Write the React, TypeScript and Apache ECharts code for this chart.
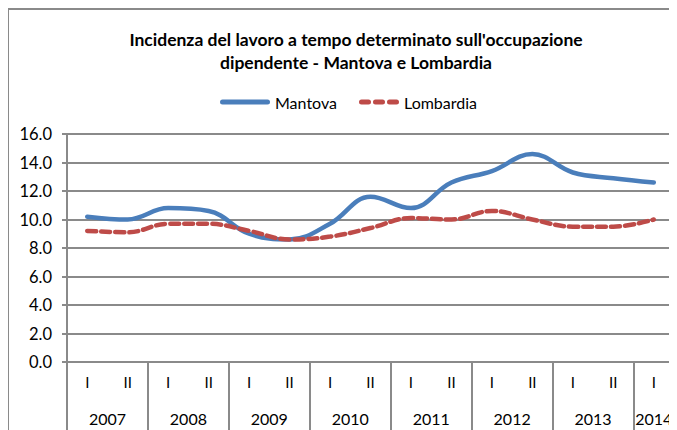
import React, { useEffect, useRef } from "react";
import * as echarts from "echarts";

const years = ["2007", "2008", "2009", "2010", "2011", "2012", "2013", "2014"];
const semestersPerYear = [2, 2, 2, 2, 2, 2, 2, 1];
const semesterNames = ["I", "II"];
const mantova = [10.2, 10.0, 10.8, 10.6, 9.0, 8.6, 9.7, 11.6, 10.8, 12.6, 13.4, 14.6, 13.3, 12.9, 12.6];
const lombardia = [9.2, 9.1, 9.7, 9.7, 9.2, 8.6, 8.8, 9.4, 10.1, 10.0, 10.6, 10.0, 9.5, 9.5, 10.0];
const yTicks = { min: 0, max: 16, interval: 2 };
const titleText = "Incidenza del lavoro a tempo determinato sull'occupazione\ndipendente - Mantova e Lombardia";

const FONT = "Lato, 'Liberation Sans', Arial, sans-serif";
const BLUE = "#4a7ebb";
const RED = "#be4b48";

const solidIcon = "path://M2.5,0 L47.5,0 A2.5,2.5 0 0 1 47.5,5 L2.5,5 A2.5,2.5 0 0 1 2.5,0 Z";
const dashIcon =
  "path://M2.5,0 L9.5,0 A2.5,2.5 0 0 1 9.5,5 L2.5,5 A2.5,2.5 0 0 1 2.5,0 Z " +
  "M16.5,0 L23.5,0 A2.5,2.5 0 0 1 23.5,5 L16.5,5 A2.5,2.5 0 0 1 16.5,0 Z " +
  "M30.5,0 L37.5,0 A2.5,2.5 0 0 1 37.5,5 L30.5,5 A2.5,2.5 0 0 1 30.5,0 Z";

export default function App() {
  const ref = useRef<HTMLDivElement>(null);
  useEffect(() => {
    if (!ref.current) return;
    const chart = echarts.init(ref.current, undefined, { renderer: "svg" });

    const semLabels: string[] = [];
    semestersPerYear.forEach((n) => {
      for (let i = 0; i < n; i++) semLabels.push(semesterNames[i]);
    });
    const halfCount = semLabels.length * 2;
    const halfLabels: string[] = new Array(halfCount + 1).fill("");
    const boundaries = new Set<number>();
    let pos = 0;
    boundaries.add(0);
    years.forEach((y, i) => {
      const w = semestersPerYear[i] * 2;
      halfLabels[pos + w / 2] = y;
      pos += w;
      boundaries.add(pos);
    });

    const gray = "#8a8a8a";
    const legendText = { fontFamily: FONT, fontSize: 16, color: "#000" };
    chart.setOption({
      animation: false,
      textStyle: { fontFamily: FONT },
      graphic: [
        { type: "line", shape: { x1: 0, y1: 1, x2: 700, y2: 1 }, style: { stroke: gray, lineWidth: 2 } },
        { type: "line", shape: { x1: 0, y1: 0, x2: 0, y2: 500 }, style: { stroke: gray, lineWidth: 2 } },
      ],
      title: {
        text: titleText,
        left: 343,
        textAlign: "center",
        top: 15,
        textStyle: { fontFamily: FONT, fontSize: 17.5, fontWeight: "bold", color: "#000", lineHeight: 23 },
      },
      legend: [
        {
          top: 81,
          left: 207,
          itemWidth: 50,
          itemHeight: 5,
          icon: solidIcon,
          textStyle: legendText,
          data: ["Mantova"],
        },
        {
          top: 81,
          left: 346,
          itemWidth: 40,
          itemHeight: 5,
          icon: dashIcon,
          textStyle: legendText,
          data: ["Lombardia"],
        },
      ],
      grid: { left: 59, top: 126, width: 607, height: 228, containLabel: false },
      xAxis: [
        {
          type: "category",
          data: semLabels,
          boundaryGap: true,
          position: "bottom",
          axisLine: { lineStyle: { color: gray, width: 2 } },
          axisTick: { length: 53, lineStyle: { color: gray, width: 2 } },
          axisLabel: { margin: 12, fontSize: 15, color: "#000", fontFamily: FONT },
        },
        {
          type: "category",
          data: halfLabels,
          boundaryGap: false,
          position: "bottom",
          axisLine: { show: false },
          axisTick: {
            length: 90,
            interval: (idx: number) => boundaries.has(idx),
            lineStyle: { color: gray, width: 2 },
          },
          axisLabel: {
            margin: 48,
            fontSize: 16,
            color: "#000",
            fontFamily: FONT,
            interval: (idx: number) => halfLabels[idx] !== "",
          },
        },
      ],
      yAxis: {
        type: "value",
        min: yTicks.min,
        max: yTicks.max,
        interval: yTicks.interval,
        axisLine: { show: true, lineStyle: { color: gray, width: 2 } },
        axisTick: { show: true, length: 5, lineStyle: { color: gray, width: 2 } },
        axisLabel: {
          margin: 15,
          fontSize: 16.5,
          color: "#000",
          fontFamily: FONT,
          formatter: (v: number) => v.toFixed(1),
        },
        splitLine: { lineStyle: { color: gray, width: 2 } },
      },
      series: [
        {
          name: "Mantova",
          type: "line",
          xAxisIndex: 0,
          data: mantova,
          smooth: 0.4,
          symbol: "none",
          lineStyle: { color: BLUE, width: 4.5, cap: "round" },
          itemStyle: { color: BLUE },
        },
        {
          name: "Lombardia",
          type: "line",
          xAxisIndex: 0,
          data: lombardia,
          smooth: 0.4,
          symbol: "none",
          lineStyle: { color: RED, width: 4.5, type: [9, 5], cap: "round" },
          itemStyle: { color: RED },
        },
      ],
    });
    return () => chart.dispose();
  }, []);
  return <div ref={ref} style={{ width: 669, height: 422 }} />;
}
